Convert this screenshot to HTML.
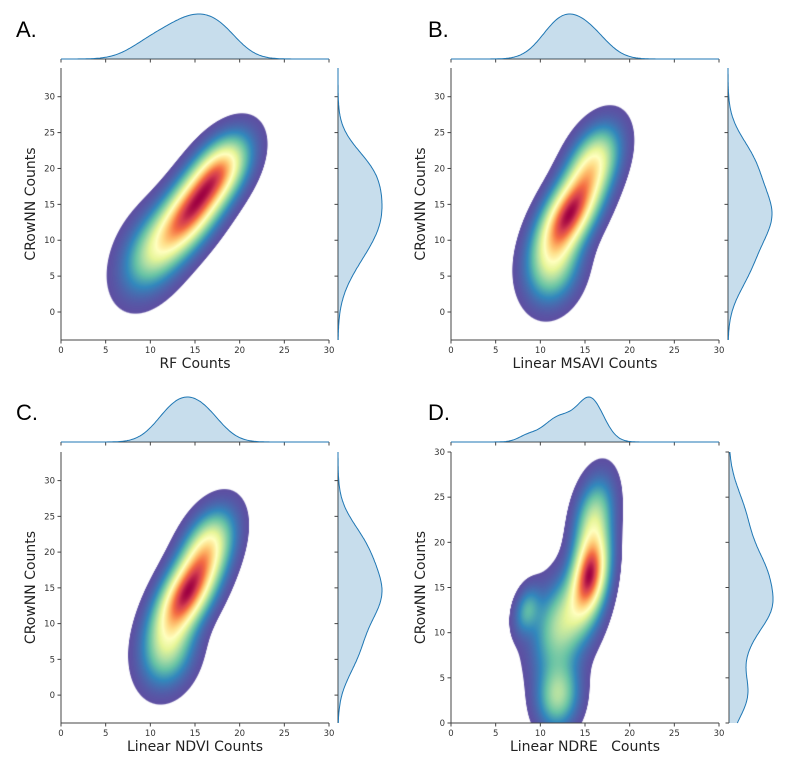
<!DOCTYPE html>
<html><head><meta charset="utf-8">
<style>
html,body{margin:0;padding:0;background:#fff;}
#wrap{position:relative;width:786px;height:768px;overflow:hidden;font-family:"DejaVu Sans","Liberation Sans",sans-serif;}
canvas{position:absolute;}
svg{position:absolute;left:0;top:0;font-family:"DejaVu Sans","Liberation Sans",sans-serif;}
</style></head>
<body>
<div id="wrap">
<svg id="svg" width="786" height="768"></svg>
</div>
<script>
// mixture components: [meanX, meanY, sdX, sdY, rho, weight]
const compsA = [[14.5,14,2.7,4.3,0.62,0.55],[10,8,2.4,4,0.35,0.2],[18,20,2.2,3.3,0.45,0.25]];
const compsB = [[13.2,13.5,2.3,4,0.55,0.55],[11.5,6,2,3.5,0.2,0.2],[16,21,2,3.5,0.4,0.25]];
const compsC = [[14,14,2.3,4,0.55,0.55],[12,6,2,3.5,0.2,0.2],[16.5,21,2,3.5,0.4,0.25]];
const compsD = [[15.6,16.5,1.4,3.2,0.3,0.35],[12.5,11,2.2,3.5,0.3,0.3],[12,3,1.6,2.5,0.1,0.15],[16,23,1.5,3,0.3,0.15],[8.5,12.5,1,1.8,0.3,0.04]];
const xTicks = [0,5,10,15,20,25,30];
const yTicksA = [0,5,10,15,20,25,30];
const yTicksD = [0,5,10,15,20,25,30];
const panelLetters = ["A.","B.","C.","D."];
const xLabels = ["RF Counts","Linear MSAVI Counts","Linear NDVI Counts","Linear NDRE   Counts"];

const panels = [
 {comps:compsA,x0:61,x1:329,top:68,bot:340,ymin:-3.9,ymax:34,yt:yTicksA,topBase:59,rightBase:338,lx:16,ly:37},
 {comps:compsB,x0:451,x1:719,top:68,bot:340,ymin:-3.9,ymax:34,yt:yTicksA,topBase:59,rightBase:728,lx:428,ly:37},
 {comps:compsC,x0:61,x1:329,top:452,bot:723,ymin:-3.9,ymax:34,yt:yTicksA,topBase:442,rightBase:338,lx:16,ly:420},
 {comps:compsD,x0:451,x1:719,top:452,bot:723,ymin:0,ymax:30,yt:yTicksD,topBase:442,rightBase:729,lx:428,ly:420}
];
const stops=["#5e4fa2","#3288bd","#66c2a5","#abdda4","#e6f598","#ffffbf","#fee08b","#fdae61","#f46d43","#d53e4f","#9e0142"].map(h=>[parseInt(h.slice(1,3),16),parseInt(h.slice(3,5),16),parseInt(h.slice(5,7),16)]);
function cmap(t){t=Math.max(0,Math.min(1,t))*10;const i=Math.min(9,Math.floor(t)),f=t-i;const a=stops[i],b=stops[i+1];return [a[0]+(b[0]-a[0])*f,a[1]+(b[1]-a[1])*f,a[2]+(b[2]-a[2])*f];}
function dens(c,x,y){let s=0;for(const k of c){const dx=(x-k[0])/k[2],dy=(y-k[1])/k[3],r=k[4];const q=(dx*dx-2*r*dx*dy+dy*dy)/(1-r*r);s+=k[5]*Math.exp(-q/2)/(k[2]*k[3]*Math.sqrt(1-r*r));}return s;}
function mx(c,x){let s=0;for(const k of c){const d=(x-k[0])/k[2];s+=k[5]*Math.exp(-d*d/2)/k[2];}return s;}
function my(c,y){let s=0;for(const k of c){const d=(y-k[1])/k[3];s+=k[5]*Math.exp(-d*d/2)/k[3];}return s;}
const svg=document.getElementById('svg');const NS='http://www.w3.org/2000/svg';
function el(tag,attrs,parent){const e=document.createElementNS(NS,tag);for(const a in attrs)e.setAttribute(a,attrs[a]);(parent||svg).appendChild(e);return e;}
const wrap=document.getElementById('wrap');

panels.forEach((p,pi)=>{
 const sx=v=>p.x0+(v-0)/30*(p.x1-p.x0);
 const sy=v=>p.bot-(v-p.ymin)/(p.ymax-p.ymin)*(p.bot-p.top);
 const W=p.x1-p.x0,H=p.bot-p.top;
 const cv=document.createElement('canvas');cv.width=W;cv.height=H;cv.style.left=p.x0+'px';cv.style.top=p.top+'px';
 
 
 wrap.insertBefore(cv,svg);
 const ctx=cv.getContext('2d');const img=ctx.createImageData(W,H);
 const vals=new Float32Array(W*H);let max=0;
 for(let j=0;j<H;j++)for(let i=0;i<W;i++){const x=(i+0.5)/W*30,y=p.ymax-(j+0.5)/H*(p.ymax-p.ymin);const d=dens(p.comps,x,y);vals[j*W+i]=d;if(d>max)max=d;}
 const th=0.04*max;
 for(let k=0;k<W*H;k++){const d=vals[k];if(d<th)continue;const t=Math.pow((d-th)/(max-th),1.3);const c=cmap(t);const a=Math.min(1,(d-th)/(0.004*max));img.data[k*4]=c[0];img.data[k*4+1]=c[1];img.data[k*4+2]=c[2];img.data[k*4+3]=255*a;}
 ctx.putImageData(img,0,0);
 const g=el('g',{});
 el('line',{x1:p.x0,y1:p.top,x2:p.x0,y2:p.bot,stroke:'#444','stroke-width':1,},g);
 el('line',{x1:p.x0,y1:p.bot,x2:p.x1,y2:p.bot,stroke:'#444','stroke-width':1,},g);
 el('line',{x1:p.x0,y1:p.topBase,x2:p.x1,y2:p.topBase,stroke:'#444','stroke-width':1,},g);
 el('line',{x1:p.rightBase,y1:p.top,x2:p.rightBase,y2:p.bot,stroke:'#444','stroke-width':1,},g);
 xTicks.forEach(v=>{const x=sx(v);
  el('line',{x1:x,y1:p.bot,x2:x,y2:p.bot+3.5,stroke:'#444'},g);
  el('line',{x1:x,y1:p.topBase,x2:x,y2:p.topBase+3.5,stroke:'#444'},g);
  const t=el('text',{x:x,y:p.bot+13,'font-size':8.5,fill:'#333','text-anchor':'middle',},g);t.textContent=v;});
 p.yt.forEach(v=>{const y=sy(v);
  el('line',{x1:p.x0-3.5,y1:y,x2:p.x0,y2:y,stroke:'#444'},g);
  el('line',{x1:p.rightBase-3.5,y1:y,x2:p.rightBase,y2:y,stroke:'#444'},g);
  const t=el('text',{x:p.x0-6,y:y+3,'font-size':8.5,fill:'#333','text-anchor':'end',},g);t.textContent=v;});
 let pts=[],mmax=0;for(let i=0;i<=200;i++){const v=i/200*30;const d=mx(p.comps,v);pts.push([v,d]);if(d>mmax)mmax=d;}
 let dpath='M'+sx(0)+','+p.topBase;pts.forEach(q=>dpath+=' L'+sx(q[0]).toFixed(1)+','+(p.topBase-q[1]/mmax*45).toFixed(1));
 el('path',{d:dpath+' L'+sx(30)+','+p.topBase+' Z',fill:'rgba(31,119,180,0.25)',stroke:'none',},g);
 el('path',{d:dpath.replace(/^M[^L]*L/,'M'),fill:'none',stroke:'#1f77b4','stroke-width':1,},g);
 pts=[];mmax=0;for(let i=0;i<=200;i++){const v=p.ymin+i/200*(p.ymax-p.ymin);const d=my(p.comps,v);pts.push([v,d]);if(d>mmax)mmax=d;}
 dpath='M'+p.rightBase+','+sy(p.ymin);pts.forEach(q=>dpath+=' L'+(p.rightBase+q[1]/mmax*44).toFixed(1)+','+sy(q[0]).toFixed(1));
 el('path',{d:dpath+' L'+p.rightBase+','+sy(p.ymax)+' Z',fill:'rgba(31,119,180,0.25)',stroke:'none',},g);
 el('path',{d:dpath.replace(/^M[^L]*L/,'M'),fill:'none',stroke:'#1f77b4','stroke-width':1,},g);
 let t=el('text',{x:(p.x0+p.x1)/2,y:p.bot+28,'font-size':14,fill:'#222','text-anchor':'middle',},g);t.textContent=xLabels[pi];t.setAttribute('style','white-space:pre');
 const cy=(p.top+p.bot)/2;
 t=el('text',{x:p.x0-26,y:cy,'font-size':14,fill:'#222','text-anchor':'middle',transform:'rotate(-90 '+(p.x0-26)+' '+cy+')',},g);t.textContent='CRowNN Counts';
 t=el('text',{x:p.lx,y:p.ly,'font-size':22,fill:'#000','font-family':'Liberation Sans, sans-serif',},g);t.textContent=panelLetters[pi];
});
</script>
</body></html>
